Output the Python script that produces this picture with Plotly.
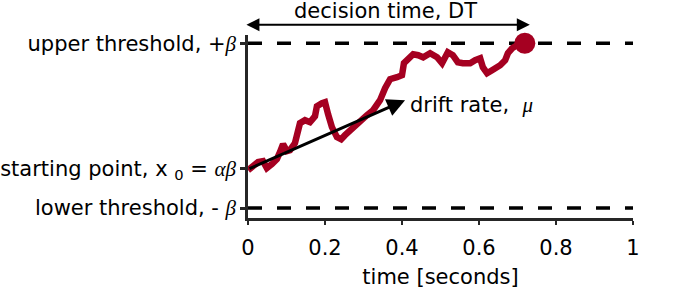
import plotly.graph_objects as go

# ---- data ----
time_s = [0.000, 0.013, 0.026, 0.039, 0.049, 0.062, 0.075, 0.083, 0.091, 0.101,
          0.109, 0.122, 0.135, 0.148, 0.161, 0.174, 0.179, 0.192, 0.200, 0.208,
          0.218, 0.231, 0.242, 0.252, 0.265, 0.278, 0.291, 0.309, 0.325, 0.343,
          0.356, 0.369, 0.387, 0.400, 0.405, 0.416, 0.429, 0.442, 0.455, 0.473,
          0.491, 0.504, 0.519, 0.532, 0.545, 0.558, 0.577, 0.590, 0.603, 0.610,
          0.621, 0.634, 0.655, 0.668, 0.675, 0.686, 0.699, 0.719]
evidence = [-0.539, -0.491, -0.442, -0.430, -0.515, -0.467, -0.406, -0.321, -0.224, -0.309,
            -0.297, -0.212, 0.030, 0.067, 0.042, 0.115, 0.236, 0.273, 0.285, 0.139,
            -0.018, -0.139, -0.164, -0.115, -0.055, -0.018, 0.042, 0.127, 0.188, 0.309,
            0.455, 0.564, 0.588, 0.612, 0.758, 0.806, 0.867, 0.855, 0.830, 0.879,
            0.830, 0.758, 0.891, 0.855, 0.770, 0.758, 0.758, 0.794, 0.818, 0.709,
            0.636, 0.673, 0.733, 0.794, 0.879, 0.939, 0.976, 1.000]

upper_threshold = 1.0
lower_threshold = -1.0
starting_point = -0.52
threshold_x = [0.0, 1.0]
y_range = [-1.12, 1.1]

decision_time = 0.719
dt_arrow_start = -0.008
dt_arrow_end = 0.732
dt_arrow_y = 1.224
dt_label_x = 0.356
dt_label_y = 1.39

drift_start = (0.0, -0.53)
drift_end = (0.408, 0.309)
drift_label = (0.415, 0.25)

x_tickvals = [0, 0.2, 0.4, 0.6, 0.8, 1]
x_ticktext = ["0", "0.2", "0.4", "0.6", "0.8", "1"]

GREEK = '<span style="font-family:\'Liberation Serif\'"><i>{}</i></span>'
y_tickvals = [upper_threshold, starting_point, lower_threshold]
y_ticktext = [
    "upper threshold, +" + GREEK.format("β"),
    "starting point, x <sub>0</sub> = " + GREEK.format("αβ"),
    "lower threshold, - " + GREEK.format("β"),
]

RED = "#A50021"
AXIS = "#262626"
FONT = "DejaVu Sans"
FS = 21


def y_to_paper(v):
    return (v - y_range[0]) / (y_range[1] - y_range[0])


fig = go.Figure()

# threshold dashed lines
for yv in [upper_threshold, lower_threshold]:
    fig.add_trace(go.Scatter(x=threshold_x, y=[yv, yv], mode="lines",
                             line=dict(color="black", width=3.5, dash="14px,15px"),
                             showlegend=False, hoverinfo="skip"))

# evidence trajectory
fig.add_trace(go.Scatter(x=time_s, y=evidence, mode="lines",
                         line=dict(color=RED, width=6.5),
                         cliponaxis=False, showlegend=False, hoverinfo="skip"))

# decision point
fig.add_trace(go.Scatter(x=[decision_time], y=[upper_threshold], mode="markers",
                         marker=dict(color=RED, size=21),
                         cliponaxis=False, showlegend=False, hoverinfo="skip"))

# drift arrow
fig.add_annotation(x=drift_end[0], y=drift_end[1], ax=drift_start[0], ay=drift_start[1],
                   xref="x", yref="y", axref="x", ayref="y", text="",
                   showarrow=True, arrowhead=2, arrowsize=1.2, arrowwidth=3,
                   arrowcolor="black")
fig.add_annotation(x=drift_label[0], y=drift_label[1], xref="x", yref="y",
                   text="drift rate,  " + GREEK.format("μ"), showarrow=False,
                   xanchor="left", yanchor="middle", font=dict(family=FONT, size=FS, color="black"))

# decision time arrow (above the plotting area)
fig.add_annotation(x=dt_arrow_end, y=y_to_paper(dt_arrow_y), ax=dt_arrow_start, ay=0,
                   xref="x", yref="paper", axref="x", ayref="pixel", text="",
                   showarrow=True, arrowhead=2, arrowside="end+start", arrowsize=1.3,
                   arrowwidth=2, arrowcolor="black")
fig.add_annotation(x=dt_label_x, y=y_to_paper(dt_label_y), xref="x", yref="paper",
                   text="decision time, DT", showarrow=False,
                   xanchor="center", yanchor="middle", font=dict(family=FONT, size=FS, color="black"))

# choice labels
fig.add_annotation(x=1.018, y=upper_threshold, xref="x", yref="y", text="left",
                   showarrow=False, xanchor="left", yanchor="middle",
                   font=dict(family=FONT, size=FS, color="black"))
fig.add_annotation(x=1.018, y=lower_threshold, xref="x", yref="y", text="right",
                   showarrow=False, xanchor="left", yanchor="middle",
                   font=dict(family=FONT, size=FS, color="black"))

fig.update_layout(
    width=685, height=289,
    margin=dict(l=248, r=52, t=35, b=71, autoexpand=False),
    paper_bgcolor="white", plot_bgcolor="white",
    font=dict(family=FONT, size=FS, color="black"),
    hovermode=False,
    xaxis=dict(range=[0, 1], tickvals=x_tickvals, ticktext=x_ticktext, automargin=False,
               showgrid=False, zeroline=False, showline=True, linecolor=AXIS, linewidth=2.5,
               ticks="outside", ticklen=4, tickwidth=2, tickcolor=AXIS, ticklabelstandoff=5,
               tickfont=dict(family=FONT, size=FS, color="black"),
               title=dict(text="time [seconds]", standoff=13,
                          font=dict(family=FONT, size=FS, color="black"))),
    yaxis=dict(range=y_range, tickvals=y_tickvals, ticktext=y_ticktext, automargin=False,
               showgrid=False, zeroline=False, showline=True, linecolor=AXIS, linewidth=2.5,
               ticks="outside", ticklen=5, tickwidth=2.5, tickcolor=AXIS,
               tickfont=dict(family=FONT, size=FS, color="black")),
    yaxis2=dict(range=y_range, tickvals=y_tickvals, overlaying="y", anchor="x",
                side="left", showgrid=False, zeroline=False, showline=False, automargin=False,
                ticks="inside", ticklen=5, tickwidth=2.5, tickcolor=AXIS,
                showticklabels=False),
)

fig.write_html("out.html", config={"displayModeBar": False},
               post_script="document.body.style.margin='0';")
